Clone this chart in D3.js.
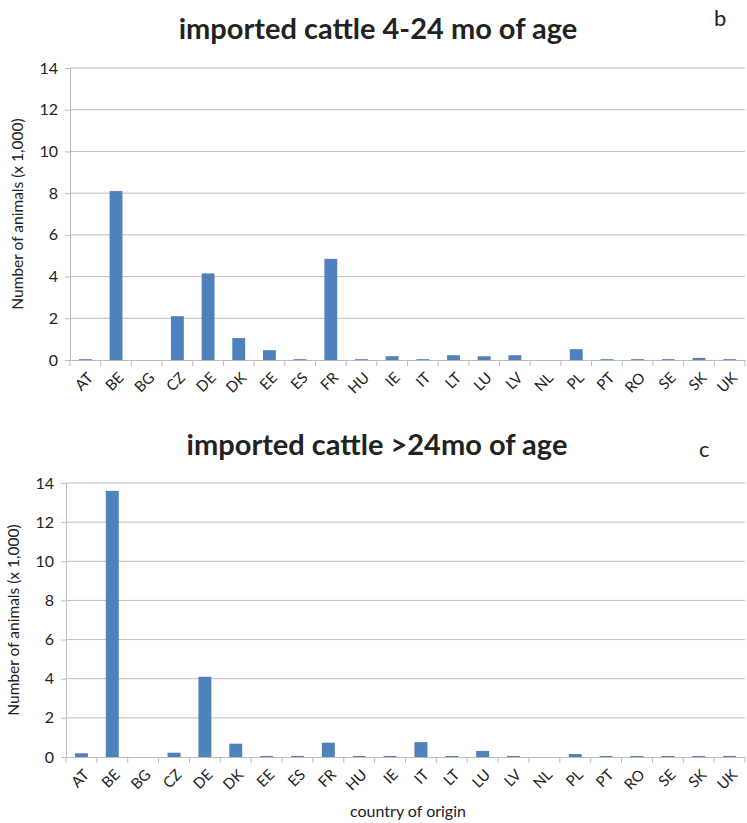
<!DOCTYPE html>
<html>
<head>
<meta charset="utf-8">
<script src="https://cdn.jsdelivr.net/npm/d3@7"></script>
<style>
  body { margin: 0; background: #fff; }
  text { font-family: Lato, "Open Sans", sans-serif; fill: #222; }
</style>
</head>
<body>
<div id="chart"></div>
<script>
const countries = ["AT","BE","BG","CZ","DE","DK","EE","ES","FR","HU","IE","IT","LT","LU","LV","NL","PL","PT","RO","SE","SK","UK"];
const young = [0.04,8.1,0,2.1,4.15,1.05,0.47,0.04,4.85,0.04,0.18,0.04,0.23,0.18,0.23,0,0.52,0.04,0.04,0.04,0.1,0.04];
const old = [0.19,13.6,0,0.22,4.1,0.68,0.05,0.05,0.73,0.05,0.05,0.76,0.05,0.31,0.05,0,0.15,0.05,0.05,0.05,0.05,0.05];
const yTicks = [0,2,4,6,8,10,12,14];

const W = 747, H = 823;
let svg = d3.select("#chart").append("svg")
    .attr("width", W)
    .attr("height", H);

function drawPanel(values, opts) {
    let x = d3.scaleBand()
        .domain(countries)
        .range([opts.left, opts.right])
        .paddingInner(0)
        .paddingOuter(0);
    let y = d3.scaleLinear()
        .domain([0, 14])
        .range([opts.bottom, opts.top]);

    let g = svg.append("g");

    // gridlines
    g.selectAll("line.grid")
        .data(yTicks.slice(1))
        .enter().append("line")
        .attr("x1", opts.left).attr("x2", opts.right)
        .attr("y1", d => y(d)).attr("y2", d => y(d))
        .attr("stroke", "#bdbdbd").attr("stroke-width", 1);

    // y axis
    let yAxis = g.append("g")
        .attr("transform", "translate(" + opts.left + ",0)")
        .call(d3.axisLeft(y).tickValues(yTicks).tickSize(5).tickPadding(7));
    yAxis.select(".domain").attr("stroke", "#bdbdbd");
    yAxis.selectAll(".tick line").attr("stroke", "#bdbdbd");
    yAxis.selectAll("text").style("font-size", "16px").style("font-family", "Lato, 'Open Sans', sans-serif").attr("fill", "#333");

    // bars
    let bw = x.bandwidth() * 0.42;
    g.selectAll("rect.bar")
        .data(values)
        .enter().append("rect")
        .attr("x", (d, i) => x(countries[i]) + (x.bandwidth() - bw) / 2)
        .attr("width", bw)
        .attr("y", d => y(d))
        .attr("height", d => y(0) - y(d))
        .attr("fill", "#4f81bd");

    // x axis
    let xAxis = g.append("g")
        .attr("transform", "translate(0," + opts.bottom + ")")
        .call(d3.axisBottom(x).tickSize(0).tickPadding(0));
    xAxis.select(".domain").attr("stroke", "#bdbdbd");
    // category boundary ticks
    g.selectAll("line.ctick")
        .data(countries)
        .enter().append("line")
        .attr("x1", d => x(d)).attr("x2", d => x(d))
        .attr("y1", opts.bottom).attr("y2", opts.bottom + 6)
        .attr("stroke", "#bdbdbd");
    g.append("line")
        .attr("x1", opts.right).attr("x2", opts.right)
        .attr("y1", opts.bottom).attr("y2", opts.bottom + 6)
        .attr("stroke", "#bdbdbd");
    xAxis.selectAll("text")
        .style("font-size", "15px")
        .style("font-family", "Lato, 'Open Sans', sans-serif")
        .attr("fill", "#333")
        .attr("text-anchor", "end")
        .attr("dy", "0.35em")
        .attr("transform", "translate(5,15) rotate(-45)");

    // y title
    svg.append("text")
        .attr("transform", "translate(" + opts.yTitleX + "," + ((opts.top + opts.bottom) / 2) + ") rotate(-90)")
        .attr("text-anchor", "middle")
        .style("font-size", "15.5px")
        .text("Number of animals (x 1,000)");

    // title
    svg.append("text")
        .attr("x", opts.titleX).attr("y", opts.titleY)
        .attr("text-anchor", "middle")
        .style("font-size", "29px")
        .style("font-weight", "bold")
        .attr("fill", "#000")
        .text(opts.title);

    svg.append("text")
        .attr("x", opts.letterX).attr("y", opts.letterY)
        .style("font-size", "22px")
        .attr("fill", "#000")
        .text(opts.letter);
}

drawPanel(young, {
    left: 70, right: 745, top: 68, bottom: 360,
    title: "imported cattle 4-24 mo of age", titleX: 378, titleY: 39,
    letter: "b", letterX: 714, letterY: 26, yTitleX: 23
});

drawPanel(old, {
    left: 66, right: 745, top: 483, bottom: 757,
    title: "imported cattle >24mo of age", titleX: 377, titleY: 455,
    letter: "c", letterX: 699, letterY: 457, yTitleX: 19
});

svg.append("text")
    .attr("x", 408).attr("y", 817)
    .attr("text-anchor", "middle")
    .style("font-size", "16px")
    .text("country of origin");
</script>
</body>
</html>
